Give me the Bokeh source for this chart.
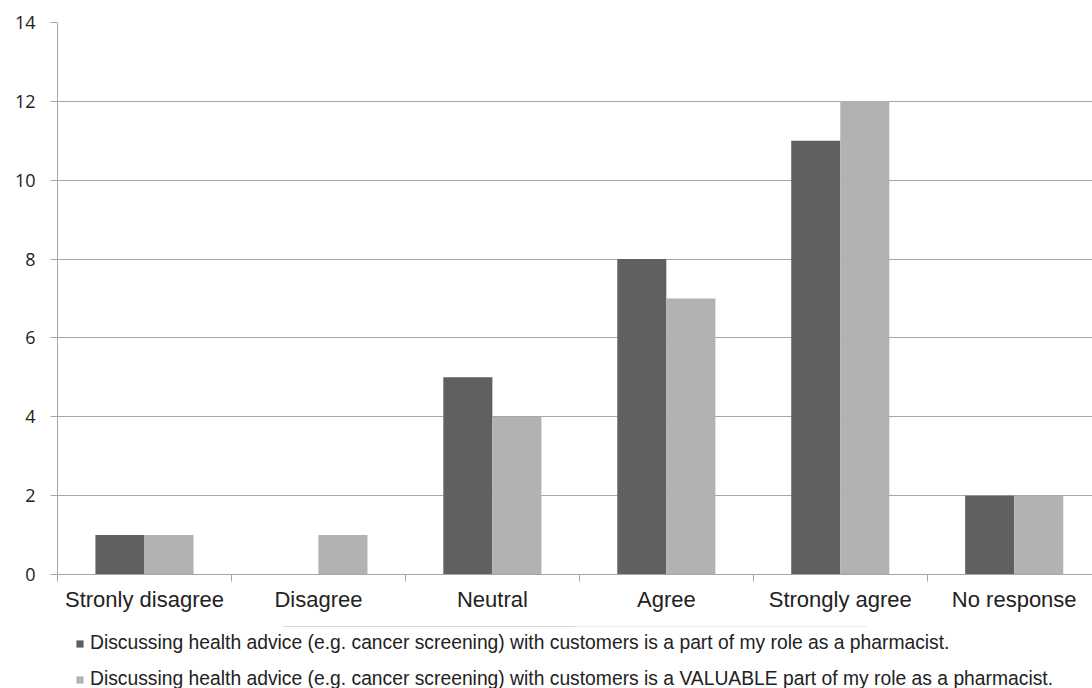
from bokeh.plotting import figure
from bokeh.layouts import column
from bokeh.models import (Range1d, FixedTicker, CustomJSTickFormatter, Legend, LegendItem,
                          ColumnDataSource)
from bokeh.embed import file_html
from bokeh.resources import INLINE
import numpy as np

categories = ["Stronly disagree", "Disagree", "Neutral", "Agree", "Strongly agree", "No response"]
part_of_role = [1, 0, 5, 8, 11, 2]
valuable_part = [1, 1, 4, 7, 12, 2]
series_names = [
    "Discussing health advice (e.g. cancer screening) with customers is a part of my role as a pharmacist.",
    "Discussing health advice (e.g. cancer screening) with customers is a VALUABLE part of my role as a pharmacist.",
]
y_ticks = [0, 2, 4, 6, 8, 10, 12, 14]

DARK = "#606060"
LIGHT = "#b2b2b2"
GRID = "#a6a6a6"
TEXT = "#222222"
BAR_W = 0.282

idx = np.arange(len(categories))
centers = idx + 0.5
src1 = ColumnDataSource(dict(x=centers - BAR_W / 2, top=part_of_role, cat=categories))
src2 = ColumnDataSource(dict(x=centers + BAR_W / 2, top=valuable_part, cat=categories))

# ---- main chart ----
p = figure(width=1092, height=626, output_backend="svg", toolbar_location=None,
           x_range=Range1d(0, 5.95), y_range=Range1d(0, 14),
           min_border_left=57, min_border_top=22, min_border_right=0, min_border_bottom=52)
p.outline_line_color = None
p.background_fill_color = "white"
p.border_fill_color = "white"

p.vbar(x="x", top="top", width=BAR_W, source=src1, fill_color=DARK, line_color=None)
p.vbar(x="x", top="top", width=BAR_W, source=src2, fill_color=LIGHT, line_color=None)

# x axis: labels at category centres, tick marks at category boundaries
xa = p.xaxis[0]
xa.ticker = FixedTicker(ticks=list(centers), minor_ticks=list(range(len(categories) + 1)))
xa.formatter = CustomJSTickFormatter(args=dict(labels=categories),
                                     code="return labels[Math.floor(tick)]")
xa.major_tick_line_color = None
xa.major_tick_out = 0
xa.major_tick_in = 0
xa.minor_tick_line_color = GRID
xa.minor_tick_out = 7
xa.minor_tick_in = 0
xa.axis_line_color = GRID
xa.major_label_standoff = 5
xa.major_label_text_font = "Liberation Sans"
xa.major_label_text_font_size = "22px"
xa.major_label_text_color = TEXT

ya = p.yaxis[0]
ya.ticker = FixedTicker(ticks=y_ticks)
ya.major_tick_line_color = GRID
ya.major_tick_out = 7
ya.major_tick_in = 0
ya.minor_tick_line_color = None
ya.axis_line_color = GRID
ya.major_label_standoff = 15
ya.major_label_text_font = "Open Sans"
ya.major_label_text_font_size = "18px"
ya.major_label_text_color = TEXT

p.xgrid.grid_line_color = None
p.ygrid.grid_line_color = GRID
p.ygrid.ticker = FixedTicker(ticks=y_ticks)

# ---- legend strip below the chart ----
lg = figure(width=1092, height=62, output_backend="svg", toolbar_location=None,
            x_range=Range1d(0, 1), y_range=Range1d(-10, -9),
            min_border_left=0, min_border_top=0, min_border_right=0, min_border_bottom=0)
lg.axis.visible = False
lg.grid.visible = False
lg.outline_line_color = None
lg.background_fill_color = "white"
lg.border_fill_color = "white"
l1 = lg.vbar(x="x", top="top", width=BAR_W, source=src1, fill_color=DARK, line_color=None)
l2 = lg.vbar(x="x", top="top", width=BAR_W, source=src2, fill_color=LIGHT, line_color=None)

legend = Legend(items=[LegendItem(label=series_names[0], renderers=[l1]),
                       LegendItem(label=series_names[1], renderers=[l2])],
                location=(18, -2), orientation="vertical",
                glyph_width=9, glyph_height=9, label_standoff=6,
                label_height=20, spacing=14, padding=0, margin=0,
                border_line_color=None, background_fill_alpha=0,
                label_text_font="Liberation Sans", label_text_font_size="19.3px",
                label_text_color=TEXT)
lg.add_layout(legend, "center")

layout = column(p, lg, spacing=0)
open("out.html", "w").write(file_html(layout, INLINE))
